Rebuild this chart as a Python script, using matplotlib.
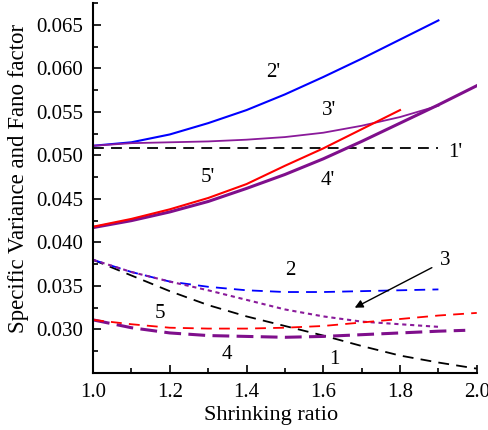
import matplotlib
matplotlib.use("Agg")
import matplotlib.pyplot as plt
from matplotlib.ticker import MultipleLocator

plt.rcParams['font.family'] = ['Liberation Serif', 'DejaVu Serif']

# ---- data ----
x10 = [1.0, 1.1, 1.2, 1.3, 1.4, 1.5, 1.6, 1.7, 1.8, 1.9]
x11 = [1.0, 1.1, 1.2, 1.3, 1.4, 1.5, 1.6, 1.7, 1.8, 1.9, 2.0]
x9 = [1.0, 1.1, 1.2, 1.3, 1.4, 1.5, 1.6, 1.7, 1.8]
x4 = [1.0, 1.1, 1.2, 1.3, 1.4, 1.5, 1.6, 1.7, 1.8, 1.9, 1.97]

y1p = [0.0509] * 10
y2p = [0.0511, 0.0515, 0.0524, 0.0537, 0.0552, 0.0570, 0.0590, 0.0611, 0.0633, 0.0655]
y3p = [0.0511, 0.0514, 0.0515, 0.0516, 0.0518, 0.0521, 0.0526, 0.0534, 0.0544, 0.0557]
y4p = [0.0417, 0.0425, 0.0435, 0.0447, 0.0462, 0.0478, 0.0496, 0.0516, 0.0537, 0.0558, 0.0580]
y5p = [0.0418, 0.0427, 0.0438, 0.0451, 0.0467, 0.0488, 0.0508, 0.0530, 0.0552]

y1 = [0.0380, 0.0362, 0.0344, 0.0328, 0.0315, 0.0304, 0.0293, 0.0281, 0.0270, 0.0262, 0.0255]
y2 = [0.0380, 0.0366, 0.0355, 0.0349, 0.0345, 0.0343, 0.0343, 0.0344, 0.0345, 0.0346]
y3 = [0.0380, 0.0366, 0.0355, 0.0345, 0.0334, 0.0323, 0.0315, 0.0309, 0.0306, 0.0303]
y4 = [0.0311, 0.0302, 0.0296, 0.0293, 0.0292, 0.0291, 0.0292, 0.0294, 0.0296, 0.0298, 0.0299]
y5 = [0.0311, 0.0306, 0.0302, 0.0301, 0.0301, 0.0302, 0.0304, 0.0308, 0.0312, 0.0316, 0.0319]

labels = ["1'", "2'", "3'", "4'", "5'", "1", "2", "3", "4", "5"]
label_x = [1.943, 1.469, 1.615, 1.612, 1.30, 1.630, 1.513, 1.917, 1.349, 1.174]
label_y = [0.0503, 0.0595, 0.0552, 0.0471, 0.0475, 0.0266, 0.0368, 0.0379, 0.0271, 0.0318]

BLUE = '#0000ff'
RED = '#ff0000'
PURPLE = '#7f0f8c'
PURPLE2 = '#8a1a9a'

fig = plt.figure(figsize=(4.88, 4.30), dpi=100)
ax = fig.add_axes([0.1906, 0.1326, 0.7864, 0.8604])

# upper (solid) curves
ax.plot(x10, y1p, color='k', lw=1.3, dashes=(6, 4))
ax.plot(x10, y2p, color=BLUE, lw=1.5)
ax.plot(x10, y3p, color=PURPLE2, lw=1.3)
ax.plot(x11, y4p, color=PURPLE, lw=2.2)
ax.plot(x9, y5p, color=RED, lw=1.5)

# lower (dashed) curves
ax.plot(x11, y1, color='k', lw=1.3, dashes=(6, 4))
ax.plot(x10, y2, color=BLUE, lw=1.3, dashes=(6, 4))
ax.plot(x10, y3, color=PURPLE2, lw=1.5, dashes=(2, 1.8))
ax.plot(x4, y4, color=PURPLE, lw=2.2, dashes=(5.5, 2.4))
ax.plot(x11, y5, color=RED, lw=1.3, dashes=(6, 4))

for t, tx, ty in zip(labels, label_x, label_y):
    ax.text(tx, ty, t, fontsize=15, ha='center', va='center')

ax.annotate('', xy=(1.682, 0.0325), xytext=(1.883, 0.0371),
            arrowprops=dict(arrowstyle='-|>', lw=1.0, color='k',
                            mutation_scale=12, shrinkA=0, shrinkB=0))

ax.set_xlim(1.0, 2.0)
ax.set_ylim(0.025, 0.0675)
ax.xaxis.set_minor_locator(MultipleLocator(0.1))
ax.yaxis.set_minor_locator(MultipleLocator(0.0025))
ax.set_yticks([0.030, 0.035, 0.040, 0.045, 0.050, 0.055, 0.060, 0.065])
ax.set_yticklabels(['0.030', '0.035', '0.040', '0.045', '0.050', '0.055', '0.060', '0.065'])
ax.set_xticks([1.0, 1.2, 1.4, 1.6, 1.8, 2.0])
ax.set_xticklabels(['1.0', '1.2', '1.4', '1.6', '1.8', '2.0'])

ax.spines['top'].set_visible(False)
ax.spines['right'].set_visible(False)
ax.spines['left'].set_linewidth(1.5)
ax.spines['bottom'].set_linewidth(1.5)
ax.tick_params(which='both', direction='in', width=1.2, labelsize=15)
ax.tick_params(which='major', length=6)
ax.tick_params(which='minor', length=3.5)
ax.tick_params(axis='x', pad=7)
ax.tick_params(axis='y', pad=7)

ax.set_xlabel('Shrinking ratio', fontsize=16)
ax.set_ylabel('Specific Variance and Fano factor', fontsize=16.5)
ax.xaxis.set_label_coords(0.464, -0.088)
ax.yaxis.set_label_coords(-0.166, 0.527)

fig.savefig('out.png', dpi=100)
